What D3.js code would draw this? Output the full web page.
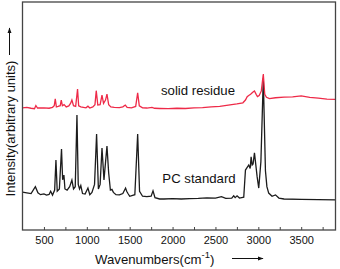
<html lang="en">
<head>
<meta charset="utf-8" />
<title>Raman spectra</title>
<script src="https://d3js.org/d3.v7.min.js"></script>
<style>
  body { margin: 0; background: #fff; }
  text { font-family: "Liberation Sans", Arial, sans-serif; fill: #111; }
</style>
</head>
<body>
<div id="chart"></div>
<script>
var width = 340, height = 269;
var margin = {top: 2, right: 4.5, bottom: 39, left: 22.5};

// axis ticks
var xTicks = [500, 750, 1000, 1250, 1500, 1750, 2000, 2250, 2500, 2750, 3000, 3250, 3500, 3750];
var xTickLabels = [500, 1000, 1500, 2000, 2500, 3000, 3500];

// PC standard spectrum: wavenumber / intensity
var pcWave = [250, 300, 350, 400, 430, 460, 500, 530, 560, 578, 600, 625, 640, 655, 680, 705, 718, 733, 745, 770,
  800, 826, 845, 865, 885, 900, 915, 930, 950, 980, 1013, 1035, 1060, 1090, 1114, 1135, 1155, 1177, 1200, 1235,
  1255, 1275, 1293, 1310, 1340, 1380, 1420, 1452, 1465, 1480, 1500, 1560, 1593, 1615, 1650, 1700, 1750, 1772, 1795,
  1850, 1900, 2000, 2100, 2200, 2300, 2400, 2500, 2570, 2620, 2690, 2713, 2730, 2752, 2780, 2830, 2850, 2888, 2905,
  2916, 2928, 2939, 2955, 2986, 3005, 3030, 3058, 3083, 3100, 3121, 3160, 3200, 3240, 3300, 3500, 3700, 3900];
var pcInt = [16.6, 16.3, 16.0, 19.0, 16.3, 15.5, 15.8, 15.3, 15.6, 17.0, 15.3, 17.5, 30.7, 17.0, 18.0, 35.5, 22.0, 24.1, 18.0, 17.5,
  19.0, 21.9, 18.0, 19.0, 50.4, 20.0, 18.0, 19.5, 16.0, 15.8, 18.4, 15.5, 16.5, 20.0, 42.1, 18.0, 20.0, 36.0, 22.0, 36.8,
  25.0, 17.5, 17.8, 16.5, 15.5, 15.4, 16.0, 18.4, 17.0, 16.0, 14.8, 15.5, 42.1, 17.0, 14.8, 14.6, 14.8, 17.2, 14.2,
  13.6, 13.6, 13.8, 13.6, 13.8, 13.9, 14.1, 14.0, 14.6, 13.9, 14.0, 15.0, 14.2, 15.0, 14.0, 14.4, 26.3, 28.5, 27.0,
  32.1, 28.5, 29.0, 33.8, 23.4, 18.4, 30.0, 66.5, 26.0, 19.0, 16.2, 14.8, 15.4, 14.0, 13.6, 13.4, 13.3, 13.2];

// solid residue spectrum: wavenumber / intensity
var resWave = [250, 300, 350, 390, 406, 425, 500, 560, 600, 620, 632, 645, 665, 690, 702, 715, 735, 760, 790, 810,
  826, 845, 870, 892, 905, 930, 960, 990, 1013, 1035, 1070, 1095, 1110, 1128, 1155, 1177, 1195, 1218, 1235, 1255,
  1280, 1320, 1380, 1420, 1449, 1470, 1520, 1570, 1593, 1612, 1650, 1700, 1760, 1790, 1850, 1950, 2050, 2150, 2250,
  2350, 2450, 2550, 2650, 2750, 2820, 2850, 2870, 2888, 2910, 2935, 2955, 2975, 2990, 3010, 3035, 3058, 3075, 3095,
  3130, 3200, 3300, 3400, 3500, 3600, 3700, 3800, 3900];
var resInt = [53.6, 53.8, 53.4, 53.2, 54.6, 53.5, 53.6, 53.4, 53.8, 54.5, 57.5, 54.0, 54.2, 54.5, 57.0, 54.5, 55.0, 54.0, 54.4, 55.5,
  57.0, 54.5, 54.2, 61.8, 54.5, 54.0, 53.8, 53.6, 54.3, 53.5, 54.0, 55.0, 61.1, 54.8, 55.0, 59.2, 55.5, 57.0, 59.6, 55.0,
  54.0, 53.8, 53.7, 54.0, 54.8, 53.8, 53.6, 54.2, 60.2, 54.5, 53.6, 53.5, 53.8, 53.4, 53.3, 53.2, 53.4, 53.3, 53.6,
  53.7, 54.0, 54.2, 54.8, 55.3, 55.8, 57.0, 58.5, 59.0, 59.5, 60.4, 61.0, 59.5, 58.5, 59.0, 61.0, 68.4, 59.5, 58.2,
  57.6, 58.0, 58.3, 58.4, 58.8, 58.2, 57.8, 57.4, 57.3];

var pcData = pcWave.map(function(w, i) { return [w, pcInt[i]]; });
var resData = resWave.map(function(w, i) { return [w, resInt[i]]; });

var svg = d3.select("#chart").append("svg")
            .attr("width", width)
            .attr("height", height);

var x = d3.scaleLinear().domain([250, 3900]).range([margin.left, width - margin.right]);
var y = d3.scaleLinear().domain([0, 100]).range([height - margin.bottom, margin.top]);

var line = d3.line()
             .x(function(d) { return x(d[0]); })
             .y(function(d) { return y(d[1]); });

// spectra
svg.append("path").datum(pcData)
   .attr("d", line).attr("fill", "none")
   .attr("stroke", "#1c1c1c").attr("stroke-width", 1.3);

svg.append("path").datum(resData)
   .attr("d", line).attr("fill", "none")
   .attr("stroke", "#ee2a48").attr("stroke-width", 1.3);

// bottom axis, ticks inward
var xAxis = d3.axisBottom(x).tickValues(xTicks).tickSizeInner(-3).tickSizeOuter(0)
              .tickFormat(function(d) { return xTickLabels.indexOf(d) >= 0 ? d : ""; });
var gx = svg.append("g").attr("transform", "translate(0," + (height - margin.bottom) + ")").call(xAxis);
gx.select(".domain").remove();
gx.selectAll(".tick line").attr("stroke", "#444");
gx.selectAll(".tick text").attr("y", 6).attr("dy", "0.71em")
  .style("font-family", "Liberation Sans, Arial, sans-serif").style("font-size", "11px").attr("fill", "#111");

// frame
svg.append("rect")
   .attr("x", margin.left).attr("y", margin.top)
   .attr("width", width - margin.left - margin.right)
   .attr("height", height - margin.top - margin.bottom)
   .attr("fill", "none").attr("stroke", "#444").attr("stroke-width", 1.3);

// arrow marker
svg.append("defs").append("marker")
   .attr("id", "arr").attr("viewBox", "0 0 10 10").attr("refX", 9).attr("refY", 5)
   .attr("markerWidth", 6).attr("markerHeight", 6).attr("orient", "auto")
   .append("path").attr("d", "M0,1.5L10,5L0,8.5Z").attr("fill", "#111");

// x title
var xt = svg.append("text").attr("x", 95).attr("y", 263.5).style("font-size", "13.2px");
xt.append("tspan").text("Wavenumbers(cm");
xt.append("tspan").attr("dy", -5.5).style("font-size", "9.5px").text("-1");
xt.append("tspan").attr("dy", 5.5).text(")");
svg.append("line").attr("x1", 232).attr("x2", 263).attr("y1", 258.5).attr("y2", 258.5)
   .attr("stroke", "#111").attr("stroke-width", 1).attr("marker-end", "url(#arr)");

// y title
svg.append("text").attr("transform", "translate(14.5,128.5) rotate(-90)")
   .attr("text-anchor", "middle").style("font-size", "13px")
   .text("Intensity(arbitrary units)");
svg.append("line").attr("x1", 9.5).attr("x2", 9.5).attr("y1", 55).attr("y2", 28)
   .attr("stroke", "#111").attr("stroke-width", 1).attr("marker-end", "url(#arr)");

// series labels
svg.append("text").attr("x", 198).attr("y", 94.5).attr("text-anchor", "middle")
   .style("font-size", "13.2px").text("solid residue");
svg.append("text").attr("x", 199).attr("y", 182.5).attr("text-anchor", "middle")
   .style("font-size", "13.2px").text("PC standard");
</script>
</body>
</html>
